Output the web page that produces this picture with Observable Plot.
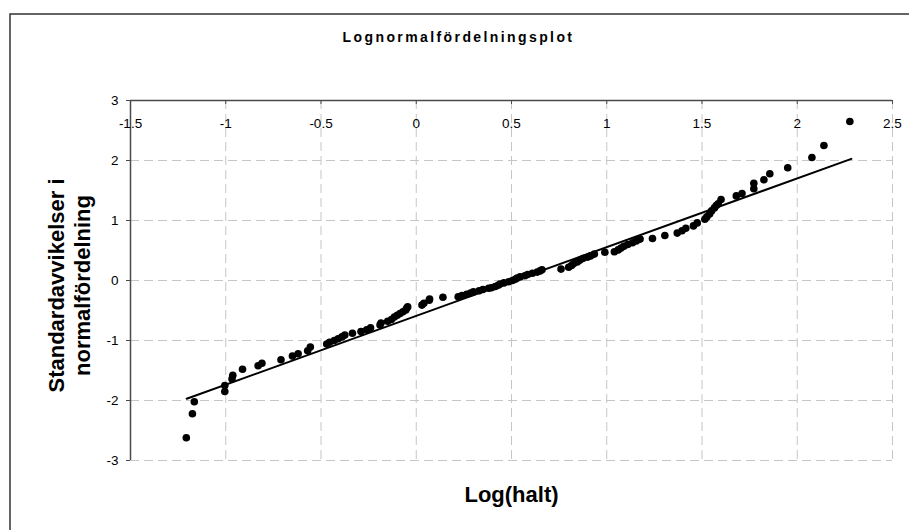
<!DOCTYPE html>
<html>
<head>
<meta charset="utf-8">
<script src="https://cdn.jsdelivr.net/npm/d3@7"></script>
<script src="https://cdn.jsdelivr.net/npm/@observablehq/plot@0.6"></script>
<style>
  html, body { margin: 0; padding: 0; background: #fff; }
  #chart { position: relative; width: 909px; height: 530px; overflow: hidden; }
</style>
</head>
<body>
<div id="chart"></div>
<script>
// Log10 of measured concentrations (sorted) and the matching standard normal scores
const logHalt = [
  -1.207, -1.175, -1.165, -1.005, -1.005, -0.967, -0.963, -0.912, -0.830, -0.810,
  -0.710, -0.650, -0.620, -0.570, -0.556, -0.470, -0.455, -0.430, -0.410, -0.390,
  -0.375, -0.335, -0.290, -0.260, -0.240, -0.190, -0.185, -0.150, -0.130, -0.115,
  -0.100, -0.085, -0.070, -0.055, -0.050, -0.045, 0.030, 0.040, 0.068, 0.070,
  0.140, 0.220, 0.240, 0.265, 0.285, 0.300, 0.330, 0.350, 0.380, 0.395,
  0.415, 0.430, 0.440, 0.460, 0.485, 0.505, 0.520, 0.530, 0.545, 0.570,
  0.585, 0.610, 0.635, 0.650, 0.660, 0.760, 0.800, 0.815, 0.825, 0.845,
  0.860, 0.877, 0.900, 0.915, 0.935, 0.990, 1.040, 1.060, 1.075, 1.090,
  1.110, 1.135, 1.155, 1.175, 1.240, 1.305, 1.370, 1.395, 1.415, 1.455,
  1.475, 1.515, 1.525, 1.540, 1.550, 1.565, 1.575, 1.585, 1.600, 1.680,
  1.710, 1.772, 1.772, 1.825, 1.856, 1.950, 2.077, 2.140, 2.276
];
const zScore = [
  -2.62, -2.22, -2.02, -1.85, -1.75, -1.64, -1.58, -1.48, -1.42, -1.38,
  -1.32, -1.26, -1.22, -1.17, -1.11, -1.06, -1.03, -1.00, -0.97, -0.94,
  -0.91, -0.88, -0.85, -0.82, -0.79, -0.74, -0.71, -0.68, -0.65, -0.61,
  -0.58, -0.55, -0.52, -0.49, -0.46, -0.44, -0.41, -0.38, -0.33, -0.31,
  -0.28, -0.27, -0.25, -0.23, -0.21, -0.19, -0.17, -0.15, -0.13, -0.12,
  -0.10, -0.08, -0.06, -0.04, -0.02, 0.00, 0.02, 0.04, 0.06, 0.08,
  0.10, 0.12, 0.14, 0.16, 0.18, 0.19, 0.22, 0.25, 0.28, 0.31,
  0.34, 0.37, 0.39, 0.41, 0.44, 0.47, 0.48, 0.51, 0.54, 0.57,
  0.60, 0.63, 0.66, 0.69, 0.70, 0.75, 0.79, 0.83, 0.87, 0.91,
  0.96, 1.02, 1.06, 1.11, 1.16, 1.21, 1.25, 1.28, 1.35, 1.41,
  1.45, 1.53, 1.62, 1.68, 1.78, 1.88, 2.05, 2.25, 2.65
];

// Least-squares trend line and the x-range it spans
const fitSlope = 1.146;
const fitIntercept = -0.59;
const fitRange = [-1.205, 2.284];

// Axis ticks and labels
const xTicks = [-1.5, -1, -0.5, 0, 0.5, 1, 1.5, 2, 2.5];
const yTicks = [-3, -2, -1, 0, 1, 2, 3];
const titleText = "Lognormalfördelningsplot";
const xTitle = "Log(halt)";
const yTitle = "Standardavvikelser i\nnormalfördelning";

const points = logHalt.map((x, i) => ({x, y: zScore[i]}));
const fitLine = fitRange.map(x => ({x, y: fitIntercept + fitSlope * x}));

const axisColor = "#4a4a4a";
const gridStyle = {stroke: "#c6c6c6", strokeOpacity: 1, strokeWidth: 1, strokeDasharray: "9,5"};

const chart = Plot.plot({
  width: 909,
  height: 530,
  marginLeft: 130,
  marginRight: 17,
  marginTop: 100,
  marginBottom: 70,
  style: {fontFamily: "'Liberation Sans', Arial, sans-serif", fontSize: "13.5px", background: "transparent", color: "#000"},
  x: {domain: [xTicks[0], xTicks[xTicks.length - 1]]},
  y: {domain: [yTicks[0], yTicks[yTicks.length - 1]]},
  marks: [
    Plot.gridX(xTicks, gridStyle),
    Plot.gridY(yTicks, gridStyle),
    Plot.ruleX([xTicks[0]], {stroke: axisColor, strokeWidth: 1.5}),
    Plot.ruleY([yTicks[yTicks.length - 1]], {stroke: axisColor, strokeWidth: 1.5}),
    Plot.axisY(yTicks, {
      anchor: "left", tickSize: 4, tickPadding: 8, label: null,
      stroke: axisColor, fill: "#000", fontSize: 13.5, tickFormat: d => String(d)
    }),
    // x axis sits along the top edge, ticks and labels hanging inside the plot
    Plot.axisX(xTicks, {
      anchor: "bottom", frameAnchor: "top", tickSize: 4, tickPadding: 14, label: null,
      stroke: axisColor, fill: "#000", fontSize: 13.5, tickFormat: d => String(d)
    }),
    Plot.line(fitLine, {x: "x", y: "y", stroke: "#000", strokeWidth: 2}),
    Plot.dot(points, {x: "x", y: "y", r: 3.8, fill: "#000"}),
    Plot.text([titleText], {
      frameAnchor: "top", dx: -53, dy: -63, fontSize: 14, fontWeight: "bold",
      lineAnchor: "middle", textAnchor: "middle", fill: "#000"
    }),
    Plot.text([xTitle], {
      frameAnchor: "bottom", dy: 34, fontSize: 22, fontWeight: "bold",
      lineAnchor: "middle", textAnchor: "middle", fill: "#000"
    }),
    Plot.text([yTitle], {
      frameAnchor: "left", dx: -62, dy: 5, rotate: -90, fontSize: 22, fontWeight: "bold",
      lineAnchor: "middle", textAnchor: "middle", lineHeight: 1.2, fill: "#000"
    })
  ]
});

// spaced-out lettering of the chart title
d3.select(chart).selectAll("text")
  .filter(function() { return this.textContent === titleText; })
  .style("letter-spacing", "2.4px");

// outer chart-area border (runs off the right and bottom edges)
d3.select(chart).insert("rect", ":first-child")
  .attr("x", 10).attr("y", 14)
  .attr("width", 1000).attr("height", 600)
  .attr("fill", "#fff").attr("stroke", "#333").attr("stroke-width", 1.5);

document.getElementById("chart").appendChild(chart);
</script>
</body>
</html>
